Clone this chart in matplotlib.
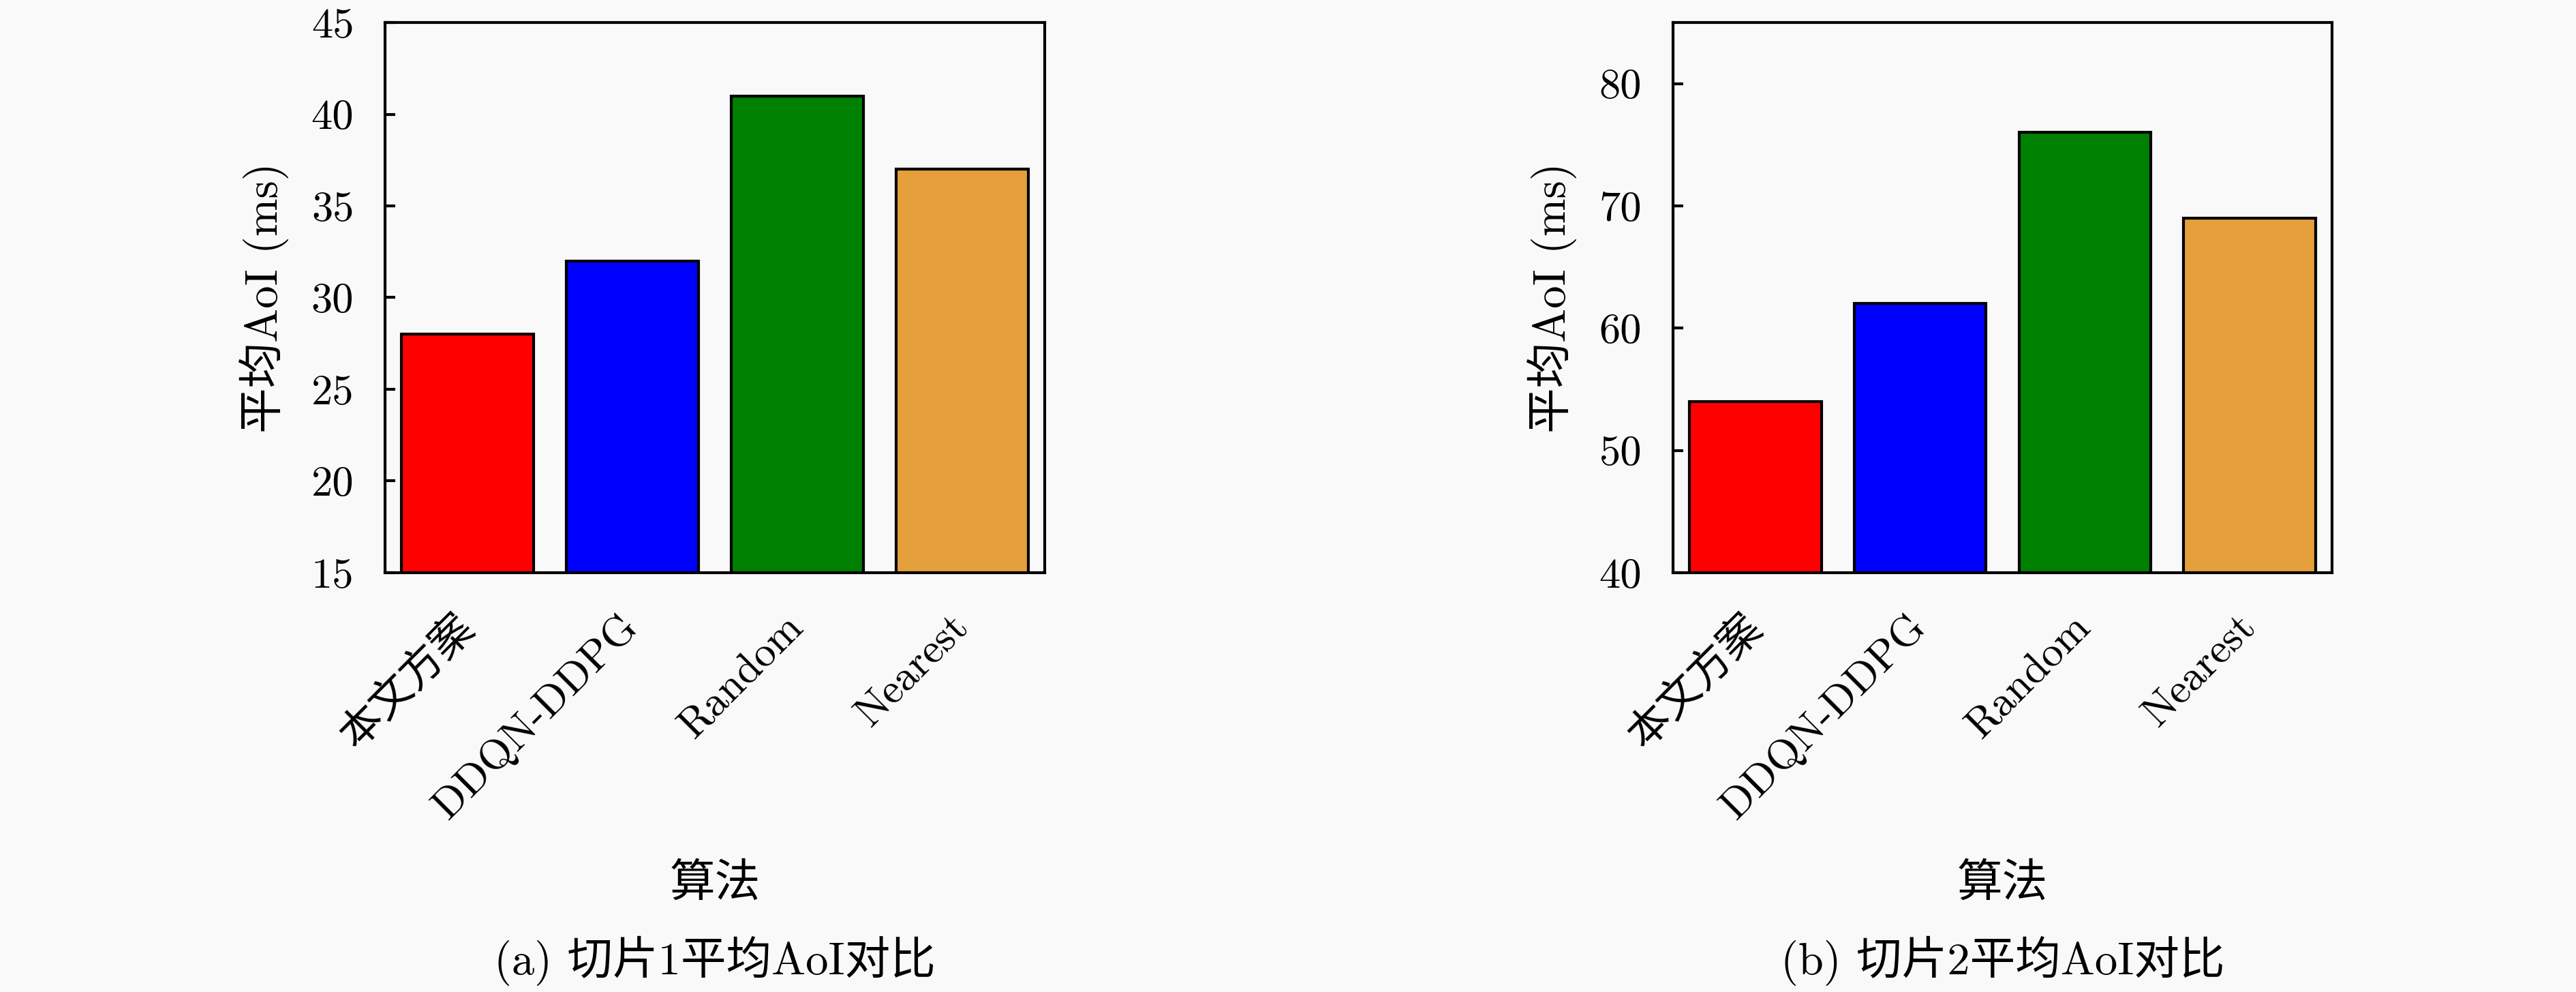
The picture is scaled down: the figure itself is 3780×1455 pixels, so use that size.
import matplotlib
matplotlib.use("Agg")
import matplotlib.pyplot as plt
import numpy as np

plt.rcParams['font.family'] = ['cmr10', 'Noto Sans CJK SC', 'DejaVu Sans']
plt.rcParams['axes.unicode_minus'] = False

# data
algorithms = ['本文方案', 'DDQN-DDPG', 'Random', 'Nearest']
colors = ['#ff0000', '#0000ff', '#008000', '#e59f3a']
aoi_slice1 = [28, 32, 41, 37]
aoi_slice2 = [54, 62, 76, 69]
yticks_1 = [15, 20, 25, 30, 35, 40, 45]
yticks_2 = [40, 50, 60, 70, 80]
ylim_1 = (15, 45)
ylim_2 = (40, 85)
captions = ['(a) 切片1平均AoI对比', '(b) 切片2平均AoI对比']

bg = '#f9f9f9'
fs = 15
fs_label = 16

fig = plt.figure(figsize=(12.6, 4.85), dpi=300, facecolor=bg)
ax1 = fig.add_axes([0.1495, 0.4227, 0.2561, 0.5546])
ax2 = fig.add_axes([0.6495, 0.4227, 0.2558, 0.5546])


def draw(ax, values, yticks, ylim, caption):
    ax.set_facecolor(bg)
    x = np.arange(len(algorithms))
    ax.bar(x, values, width=0.8, color=colors, edgecolor='black', linewidth=1.0, zorder=2)
    ax.set_xlim(-0.5, 3.5)
    ax.set_ylim(*ylim)
    ax.set_yticks(yticks, labels=[str(t) for t in yticks])
    ax.set_xticks(x)
    ax.set_xticklabels(algorithms, rotation=45, ha='right', va='center',
                       rotation_mode='anchor')
    ax.tick_params(axis='both', direction='in', labelsize=fs, width=1.0, length=3.5,
                   top=False, right=False)
    ax.tick_params(axis='x', pad=17)
    ax.tick_params(axis='y', pad=11)
    for sp in ax.spines.values():
        sp.set_linewidth(1.0)
        sp.set_zorder(3)
    ax.set_ylabel('平均AoI (ms)', fontsize=fs_label)
    ax.yaxis.set_label_coords(-0.146, 0.5)
    ax.text(0.5, -0.566, '算法', transform=ax.transAxes, ha='center', va='center',
            fontsize=fs_label)
    ax.text(0.5, -0.706, caption, transform=ax.transAxes, ha='center', va='center',
            fontsize=fs_label)


draw(ax1, aoi_slice1, yticks_1, ylim_1, captions[0])
draw(ax2, aoi_slice2, yticks_2, ylim_2, captions[1])

fig.savefig('out.png', dpi=300, facecolor=bg)
